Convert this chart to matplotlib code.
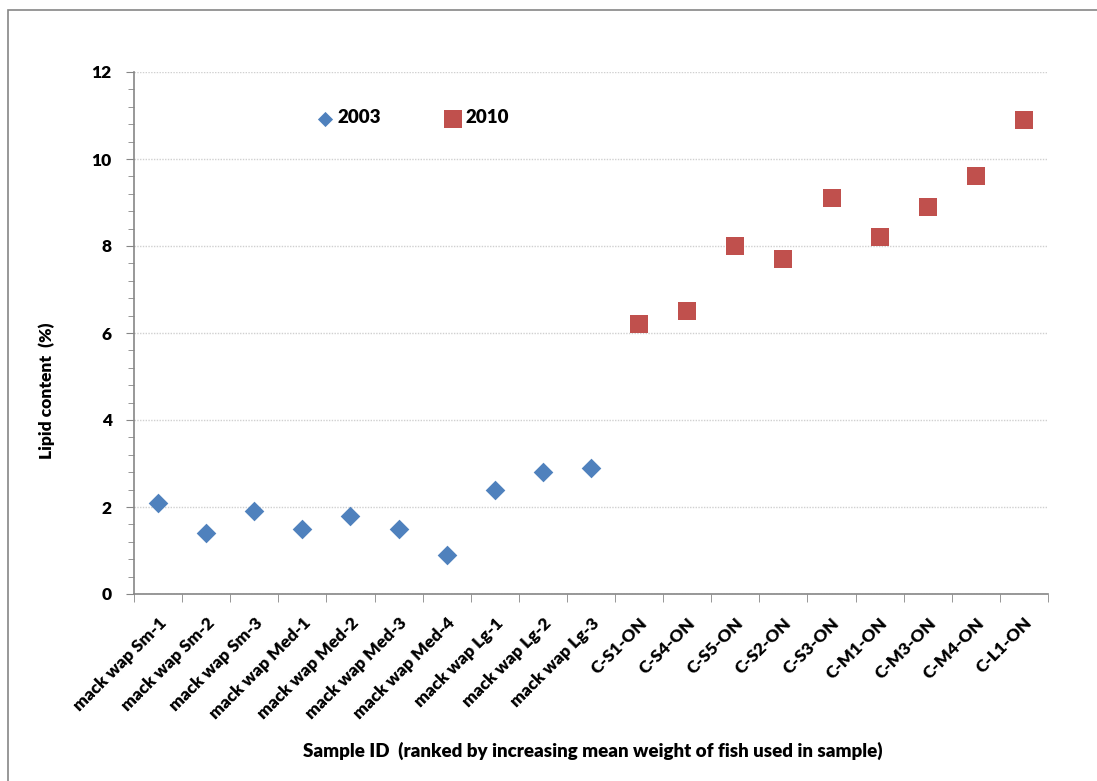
import matplotlib.pyplot as plt
import matplotlib.patches as mpatches
from matplotlib.ticker import MultipleLocator

plt.rcParams['font.family'] = ['Lato', 'DejaVu Sans']
W = 'heavy'

# sample ids, in plotted order
labels_2003 = ['mack wap Sm-1', 'mack wap Sm-2', 'mack wap Sm-3', 'mack wap Med-1',
               'mack wap Med-2', 'mack wap Med-3', 'mack wap Med-4', 'mack wap Lg-1',
               'mack wap Lg-2', 'mack wap Lg-3']
labels_2010 = ['C-S1-ON', 'C-S4-ON', 'C-S5-ON', 'C-S2-ON', 'C-S3-ON',
               'C-M1-ON', 'C-M3-ON', 'C-M4-ON', 'C-L1-ON']

lipid_2003 = [2.1, 1.4, 1.9, 1.5, 1.8, 1.5, 0.9, 2.4, 2.8, 2.9]
lipid_2010 = [6.2, 6.5, 8.0, 7.7, 9.1, 8.2, 8.9, 9.6, 10.9]

blue = '#4F81BD'
red = '#C0504D'
axis_col = '#868686'

fig = plt.figure(figsize=(10.97, 7.81), dpi=100)
# chart area border (Excel style), only top/left show in the crop
fig.patches.append(mpatches.Rectangle((8 / 1097, -0.1), 1.2, 1 - 10 / 781 + 0.1,
                                      transform=fig.transFigure, fill=False,
                                      edgecolor=axis_col, linewidth=1.2))

ax = fig.add_axes([134 / 1097, 187 / 781, (1048 - 134) / 1097, (594 - 72) / 781])

all_labels = labels_2003 + labels_2010
x03 = list(range(len(labels_2003)))
x10 = list(range(len(labels_2003), len(all_labels)))

ax.scatter(x03, lipid_2003, marker='D', s=100, color=blue, linewidths=0, zorder=3)
ax.scatter(x10, lipid_2010, marker='s', s=170, color=red, linewidths=0, zorder=3)

ax.set_xlim(-0.5, len(all_labels) - 0.5)
ax.set_ylim(0, 12)
ax.yaxis.set_major_locator(MultipleLocator(2))
ax.yaxis.set_minor_locator(MultipleLocator(0.4))
ax.grid(axis='y', which='major', color='#D0D0D0', linestyle=(0, (1, 1)), linewidth=1)
ax.set_axisbelow(True)

ax.set_xticks(x03 + x10)
ax.set_xticklabels(all_labels, rotation=45, ha='right', rotation_mode='anchor',
                   fontsize=12.5, fontweight=W)
ax.tick_params(axis='x', which='major', length=0, pad=15)
ax.set_xticks([i - 0.5 for i in range(len(all_labels) + 1)], minor=True)
ax.tick_params(axis='x', which='minor', length=6, color=axis_col, direction='out')

ax.tick_params(axis='y', which='major', length=6, color=axis_col, labelsize=12.5, pad=10)
ax.tick_params(axis='y', which='minor', length=4, color=axis_col)
for t in ax.get_yticklabels():
    t.set_fontweight(W)

for s in ['top', 'right']:
    ax.spines[s].set_visible(False)
for s in ['left', 'bottom']:
    ax.spines[s].set_color(axis_col)
    ax.spines[s].set_linewidth(1.2)

ax.set_ylabel('Lipid content  (%)', fontsize=12.5, fontweight=W)
ax.yaxis.set_label_coords(-0.086, 0.389)
ax.set_xlabel('Sample ID  (ranked by increasing mean weight of fish used in sample)',
              fontsize=13.5, fontweight=W)
ax.xaxis.set_label_coords(0.502, -0.283)

# legend placed inside plot like the original
h1 = ax.scatter([], [], marker='D', s=60, color=blue, linewidths=0)
h2 = ax.scatter([], [], marker='s', s=170, color=red, linewidths=0)
ax.legend([h1, h2], ['2003', '2010'], ncol=2, frameon=False,
          loc='center left', bbox_to_anchor=(0.178, 0.912), columnspacing=3.2,
          handletextpad=0.1, handlelength=1.2, prop={'weight': W, 'size': 13.5})

fig.savefig('out.png', dpi=100)
